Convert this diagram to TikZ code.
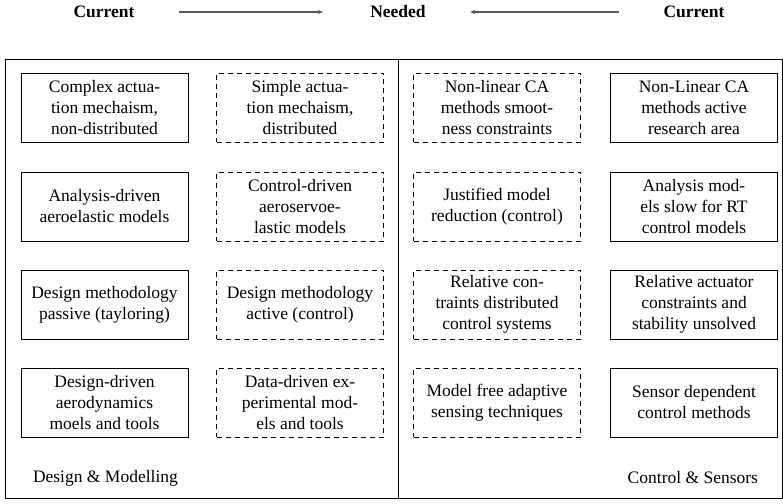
\documentclass[tikz,border=0pt]{standalone}
\usepackage{fontspec}
\setmainfont{Liberation Serif}
\usetikzlibrary{arrows.meta}
\begin{document}
\begin{tikzpicture}[x=1pt,y=-1pt,
  every node/.style={inner sep=0pt, outer sep=0pt},
  txt/.style={font=\fontsize{17.5}{21}\selectfont, align=center},
  boxsolid/.style={txt, draw, line width=0.85pt, minimum width=167pt, minimum height=69pt},
  boxdash/.style={boxsolid, dash pattern=on 5pt off 4pt},
  ttl/.style={font=\fontsize{17.5}{21}\selectfont\bfseries},
  arr/.style={line width=1.5pt, draw=black!65, -{Latex[length=5pt,width=4.5pt]}}
]
\useasboundingbox (0,0) rectangle (783,503);
% frame
\draw[line width=0.95pt] (5,59) rectangle (782,498);
\draw[line width=0.95pt] (398,59) -- (398,498);
% titles
\node[ttl] (c1) at (104,12) {Current};
\node[ttl] (nd) at (398,12) {Needed};
\node[ttl] (c2) at (694,12) {Current};
\draw[arr, shorten <=45pt, shorten >=47pt] (c1) -- (nd);
\draw[arr, shorten <=45pt, shorten >=44pt] (c2) -- (nd);
% column 1
\node[boxsolid] (a1) at (104.5,107.5) {Complex actua-\\tion mechaism,\\non-distributed};
\node[boxsolid] (a2) at (104.5,206.5) {Analysis-driven\\aeroelastic models};
\node[boxsolid] (a3) at (104.5,304.5) {Design methodology\\passive (tayloring)};
\node[boxsolid] (a4) at (104.5,402.5) {Design-driven\\aerodynamics\\moels and tools};
% column 2
\node[boxdash] (b1) at (300,107.5) {Simple actua-\\tion mechaism,\\distributed};
\node[boxdash] (b2) at (300,206.5) {Control-driven\\aeroservoe-\\lastic models};
\node[boxdash] (b3) at (300,304.5) {Design methodology\\active (control)};
\node[boxdash] (b4) at (300,402.5) {Data-driven ex-\\perimental mod-\\els and tools};
% column 3
\node[boxdash] (d1) at (497,107.5) {Non-linear CA\\methods smoot-\\ness constraints};
\node[boxdash] (d2) at (497,206.5) {Justified model\\reduction (control)};
\node[boxdash] (d3) at (497,304.5) {Relative con-\\traints distributed\\control systems};
\node[boxdash] (d4) at (497,402.5) {Model free adaptive\\sensing techniques};
% column 4
\node[boxsolid] (e1) at (694,107.5) {Non-Linear CA\\methods active\\research area};
\node[boxsolid] (e2) at (694,206.5) {Analysis mod-\\els slow for RT\\control models};
\node[boxsolid] (e3) at (694,304.5) {Relative actuator\\constraints and\\stability unsolved};
\node[boxsolid] (e4) at (694,402.5) {Sensor dependent\\control methods};
% section labels
\node[txt, anchor=west] (l1) at (33,478) {Design \& Modelling};
\node[txt, anchor=east] (l2) at (758,478) {Control \& Sensors};
\end{tikzpicture}
\end{document}
